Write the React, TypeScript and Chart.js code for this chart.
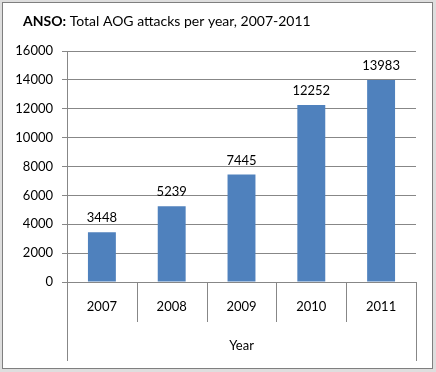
import React, { useEffect, useRef } from "react";
import { Chart, registerables } from "chart.js";

Chart.register(...registerables);

const categories: string[] = ["2007", "2008", "2009", "2010", "2011"];
const attacks: number[] = [3448, 5239, 7445, 12252, 13983];
const yTicks: number[] = [0, 2000, 4000, 6000, 8000, 10000, 12000, 14000, 16000];
const titleBold = "ANSO:";
const titleRest = " Total AOG attacks per year, 2007-2011";
const xTitle = "Year";

const FONT = "Lato, 'Open Sans', sans-serif";
const GRID = "#878787";

const decorPlugin = {
  id: "decor",
  afterDraw(chart: any) {
    const ctx = chart.ctx as CanvasRenderingContext2D;
    const x = chart.scales.x;
    const area = chart.chartArea;
    ctx.save();
    // title
    ctx.fillStyle = "#000";
    ctx.textBaseline = "middle";
    ctx.textAlign = "left";
    ctx.font = `bold 14px ${FONT}`;
    const tx = 23;
    const ty = 21;
    ctx.fillText(titleBold, tx, ty);
    const w = ctx.measureText(titleBold).width;
    ctx.font = `14px ${FONT}`;
    ctx.fillText(titleRest, tx + w, ty);
    // data labels
    ctx.font = `13px ${FONT}`;
    ctx.textAlign = "center";
    ctx.textBaseline = "alphabetic";
    const meta = chart.getDatasetMeta(0);
    meta.data.forEach((bar: any, i: number) => {
      ctx.fillText(String(chart.data.datasets[0].data[i]), bar.x, bar.y - 10);
    });
    // category table lines
    ctx.strokeStyle = GRID;
    ctx.lineWidth = 1;
    const n = chart.data.labels.length;
    for (let i = 0; i <= n; i++) {
      const px =
        i === n
          ? area.right
          : i === 0
          ? area.left
          : (x.getPixelForValue(i - 1) + x.getPixelForValue(i)) / 2;
      const end = i === 0 || i === n ? area.bottom + 79 : area.bottom + 40;
      const xx = Math.round(px) + 0.5;
      ctx.beginPath();
      ctx.moveTo(xx, area.bottom);
      ctx.lineTo(xx, end);
      ctx.stroke();
    }
    ctx.restore();
  },
};

export default function App() {
  const ref = useRef<HTMLCanvasElement | null>(null);
  useEffect(() => {
    document.body.style.margin = "0";
    const chart = new Chart(ref.current as HTMLCanvasElement, {
      type: "bar",
      data: {
        labels: categories,
        datasets: [
          {
            data: attacks,
            backgroundColor: "#4F81BD",
            borderWidth: 0,
            categoryPercentage: 1,
            barPercentage: 0.4,
          },
        ],
      },
      options: {
        animation: false,
        responsive: false,
        devicePixelRatio: 1,
        layout: { padding: { top: 51, right: 20, left: 0, bottom: 0 } },
        plugins: {
          legend: { display: false },
          title: { display: false },
          tooltip: { enabled: false },
        },
        scales: {
          x: {
            afterFit(scale: any) {
              scale.height = 90;
            },
            grid: { display: false },
            border: { display: true, color: GRID },
            ticks: {
              color: "#000",
              font: { family: FONT, size: 13 },
              padding: 9,
            },
            title: {
              display: true,
              text: xTitle,
              color: "#000",
              font: { family: FONT, size: 13 },
              padding: { top: 0, bottom: 18 },
            },
          },
          y: {
            min: 0,
            max: 16000,
            afterFit(scale: any) {
              scale.width = 67;
            },
            afterBuildTicks(scale: any) {
              scale.ticks = yTicks.map((v) => ({ value: v }));
            },
            grid: { color: GRID, tickLength: 5, tickColor: GRID },
            border: { display: true, color: GRID },
            ticks: {
              color: "#000",
              font: { family: FONT, size: 13 },
              padding: 9,
              callback: (v: any) => String(v),
            },
          },
        },
      },
      plugins: [decorPlugin],
    });
    return () => chart.destroy();
  }, []);
  return (
    <div style={{ position: "relative", width: 436, height: 372, background: "#dedede" }}>
      <div
        style={{
          position: "absolute",
          left: 2,
          top: 2,
          width: 429,
          height: 365,
          border: "1px solid #7f7f7f",
          background: "#fff",
        }}
      />
      <canvas
        ref={ref}
        width={436}
        height={372}
        style={{ position: "absolute", left: 0, top: 0, width: 436, height: 372 }}
      />
    </div>
  );
}
